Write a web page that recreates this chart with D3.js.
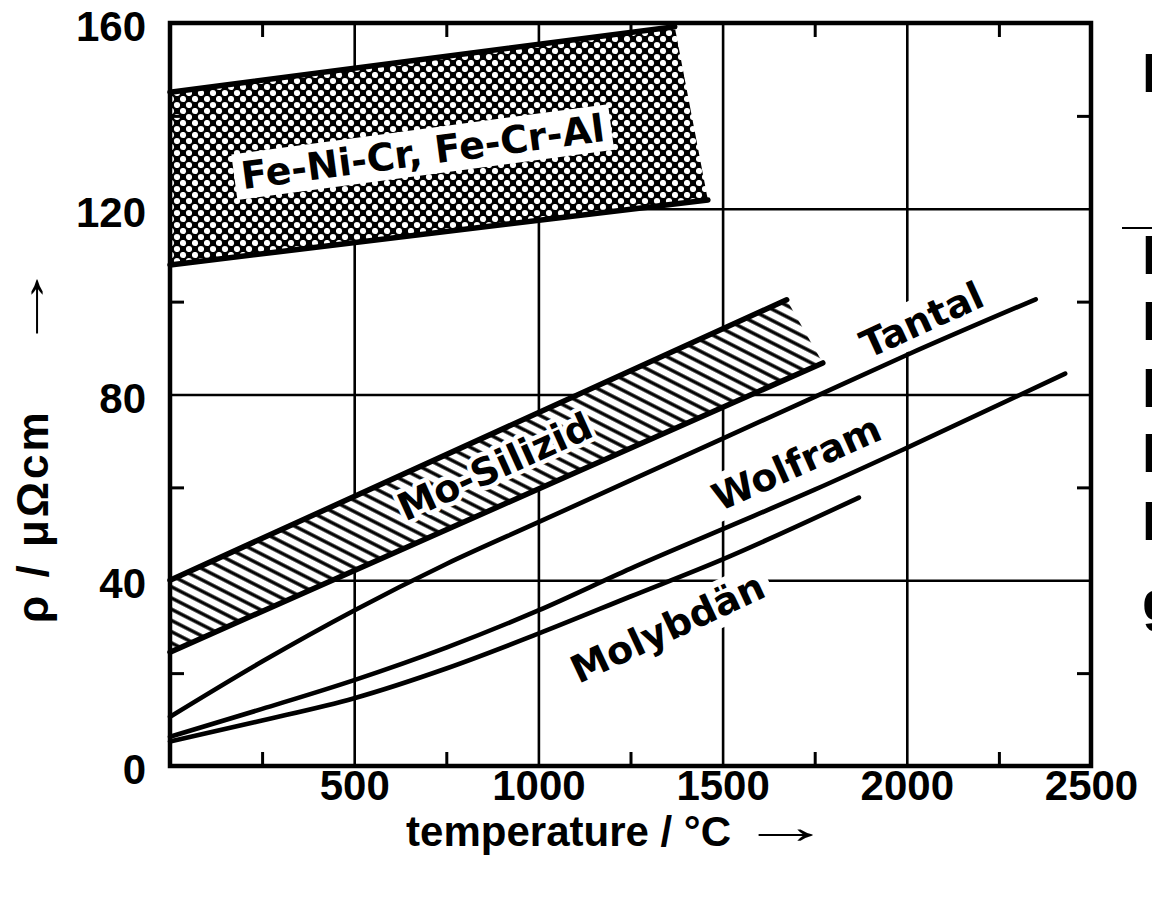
<!DOCTYPE html>
<html>
<head>
<meta charset="utf-8">
<script src="https://cdn.jsdelivr.net/npm/d3@7"></script>
<style>
  html, body { margin: 0; padding: 0; background: #fff; }
  svg { display: block; }
</style>
</head>
<body>
<svg id="chart" width="1152" height="911"></svg>
<script>
// ---- axis values ----
const tempTicks = [500, 1000, 1500, 2000, 2500];
const rhoTicks = [0, 40, 80, 120, 160];
const tempGrid = [500, 1000, 1500, 2000];
const rhoGrid = [40, 80, 120];
const tempMinor = [250, 750, 1250, 1750, 2250];
const rhoMinor = [20, 60, 100, 140];

// ---- resistivity bands [temperature °C, rho µΩcm] ----
const feNiCrUpper = [[0, 145.1], [1370, 159.2]];
const feNiCrLower = [[0, 107.9], [1460, 121.9]];
const moSiUpper = [[0, 40.0], [1674, 100.4]];
const moSiLower = [[0, 24.5], [1772, 86.8]];

// ---- single metals [temperature °C, rho µΩcm] ----
const tantal = [[0, 10.6], [250, 22.5], [500, 33.5], [750, 43.5], [1000, 52.5], [1250, 61.5],
                [1500, 70.5], [1750, 79.5], [2000, 88.5], [2350, 100.5]];
const wolfram = [[0, 6.3], [250, 12.3], [500, 18.5], [750, 25.5], [1000, 33.5], [1250, 42.5],
                 [1500, 51], [1750, 59.5], [2000, 68.5], [2430, 84.5]];
const molybdaen = [[0, 5.3], [250, 9.8], [500, 14.6], [750, 21], [1000, 28.5], [1250, 36.5],
                   [1500, 44.5], [1870, 57.8]];

// ---- curve labels: anchor in data units, rotation in degrees ----
const curveLabels = [
  { text: "Fe-Ni-Cr, Fe-Cr-Al", t: 686, r: 132.2, angle: -7.6, box: true },
  { text: "Mo-Silizid", t: 882, r: 64.4, angle: -24.4, halo: true },
  { text: "Tantal", t: 2041, r: 96.0, angle: -24.5, box: true },
  { text: "Wolfram", t: 1701, r: 65.2, angle: -24.0, box: true },
  { text: "Molybdän", t: 1351, r: 29.7, angle: -25.0, box: true }
];

// ---- text fragments of the neighbouring column ----
const edgeLetters = ["F", "E", "B", "D", "P", "R", "g"];
const edgeBaselines = [92, 274, 340, 407, 472, 540, 620];

const svg = d3.select("#chart");
const x = d3.scaleLinear().domain([0, 2500]).range([170, 1091]);
const y = d3.scaleLinear().domain([0, 160]).range([766, 23]);
const plotW = x(2500) - x(0), plotH = y(0) - y(160);

// patterns
const defs = svg.append("defs");
const dots = defs.append("pattern").attr("id", "dots")
  .attr("patternUnits", "userSpaceOnUse").attr("width", 12).attr("height", 12);
dots.append("rect").attr("width", 12).attr("height", 12).attr("fill", "#000");
dots.append("circle").attr("cx", 3).attr("cy", 3).attr("r", 3.1).attr("fill", "#fff");
dots.append("circle").attr("cx", 9).attr("cy", 9).attr("r", 3.1).attr("fill", "#fff");

const hatch = defs.append("pattern").attr("id", "hatch")
  .attr("patternUnits", "userSpaceOnUse").attr("width", 10).attr("height", 10)
  .attr("patternTransform", "rotate(27)");
hatch.append("rect").attr("width", 10).attr("height", 10).attr("fill", "#fff");
hatch.append("line").attr("x1", 0).attr("x2", 10).attr("y1", 5).attr("y2", 5)
  .attr("stroke", "#000").attr("stroke-width", 3.4);

// gridlines
const gx = svg.append("g").attr("transform", `translate(0,${y(0)})`)
  .call(d3.axisBottom(x).tickValues(tempGrid).tickSize(-plotH).tickFormat(""));
const gy = svg.append("g").attr("transform", `translate(${x(0)},0)`)
  .call(d3.axisLeft(y).tickValues(rhoGrid).tickSize(-plotW).tickFormat(""));
[gx, gy].forEach(g => {
  g.select(".domain").remove();
  g.selectAll("line").attr("stroke", "#000").attr("stroke-width", 2.6);
});

// bands
const line = d3.line().x(d => x(d[0])).y(d => y(d[1]));
function band(upper, lower, fill) {
  const poly = upper.concat(lower.slice().reverse());
  svg.append("path").attr("d", line(poly) + "Z").attr("fill", fill);
  [upper, lower].forEach(edge => {
    svg.append("path").attr("d", line(edge)).attr("fill", "none")
      .attr("stroke", "#000").attr("stroke-width", 5.5).attr("stroke-linecap", "round");
  });
}
band(feNiCrUpper, feNiCrLower, "url(#dots)");
band(moSiUpper, moSiLower, "url(#hatch)");

// labels
const labelFont = "'DejaVu Sans', sans-serif";
curveLabels.forEach(l => {
  const g = svg.append("g")
    .attr("transform", `translate(${x(l.t)},${y(l.r)}) rotate(${l.angle})`);
  const rect = g.append("rect").attr("fill", "#fff");
  const t = g.append("text").text(l.text)
    .attr("text-anchor", "middle").attr("dominant-baseline", "central")
    .attr("font-family", labelFont).attr("font-weight", "bold").attr("font-size", 38)
    .attr("fill", "#000");
  if (l.halo) {
    t.attr("stroke", "#fff").attr("stroke-width", 9).attr("paint-order", "stroke")
      .attr("stroke-linejoin", "round");
    rect.remove();
  } else {
    const b = t.node().getBBox();
    const padX = 7, padY = 1;
    rect.attr("x", b.x - padX).attr("y", b.y - padY)
      .attr("width", b.width + 2 * padX).attr("height", b.height + 2 * padY);
  }
});

// metal curves
const curve = d3.line().x(d => x(d[0])).y(d => y(d[1])).curve(d3.curveMonotoneX);
[tantal, wolfram, molybdaen].forEach(s => {
  svg.append("path").attr("d", curve(s)).attr("fill", "none")
    .attr("stroke", "#000").attr("stroke-width", 4.6).attr("stroke-linecap", "round");
});

// minor ticks on all four sides
const tick = 14;
const sides = [
  svg.append("g").attr("transform", `translate(0,${y(0)})`)
    .call(d3.axisBottom(x).tickValues(tempMinor).tickSize(-tick).tickFormat("")),
  svg.append("g").attr("transform", `translate(0,${y(160)})`)
    .call(d3.axisTop(x).tickValues(tempMinor).tickSize(-tick).tickFormat("")),
  svg.append("g").attr("transform", `translate(${x(0)},0)`)
    .call(d3.axisLeft(y).tickValues(rhoMinor).tickSize(-tick).tickFormat("")),
  svg.append("g").attr("transform", `translate(${x(2500)},0)`)
    .call(d3.axisRight(y).tickValues(rhoMinor).tickSize(-tick).tickFormat(""))
];
sides.forEach(g => {
  g.select(".domain").remove();
  g.selectAll("line").attr("stroke", "#000").attr("stroke-width", 3);
});

// frame
svg.append("rect").attr("x", x(0)).attr("y", y(160)).attr("width", plotW).attr("height", plotH)
  .attr("fill", "none").attr("stroke", "#000").attr("stroke-width", 4.5);

// tick labels
const numFont = "'Liberation Sans', Arial, sans-serif";
const ax = svg.append("g").attr("transform", `translate(0,${y(0)})`)
  .call(d3.axisBottom(x).tickValues(tempTicks).tickFormat(d3.format("d")).tickSize(0).tickPadding(4));
const ay = svg.append("g").attr("transform", `translate(${x(0)},0)`)
  .call(d3.axisLeft(y).tickValues(rhoTicks).tickFormat(d3.format("d")).tickSize(0).tickPadding(24));
[ax, ay].forEach(g => {
  g.select(".domain").remove();
  g.selectAll("text").attr("font-family", numFont).attr("font-weight", "bold")
    .attr("font-size", 42).attr("fill", "#000");
});
ay.selectAll("text").attr("dy", "0.42em");

// axis titles
const titleFont = "'Liberation Sans', Arial, sans-serif";
svg.append("text").attr("x", 731).attr("y", 846).attr("text-anchor", "end")
  .attr("font-family", titleFont).attr("font-weight", "bold").attr("font-size", 42)
  .text("temperature / °C");
svg.append("text").attr("transform", "translate(740,843) scale(1.9,1)")
  .attr("font-family", titleFont).attr("font-size", 48).text("→");

svg.append("text").attr("transform", "translate(48,623) rotate(-90)")
  .attr("font-family", titleFont).attr("font-weight", "bold").attr("font-size", 44)
  .attr("letter-spacing", 3).text("ρ / μΩcm");
svg.append("text").attr("transform", "translate(45,352) rotate(-90) scale(1.9,1)")
  .attr("font-family", titleFont).attr("font-size", 48).text("→");

// neighbouring column, cut at the page edge
svg.append("line").attr("x1", 1122).attr("x2", 1152).attr("y1", 228).attr("y2", 228)
  .attr("stroke", "#000").attr("stroke-width", 2);
svg.selectAll("text.edge").data(edgeLetters).join("text").attr("class", "edge")
  .attr("x", 1142).attr("y", (d, i) => edgeBaselines[i])
  .attr("font-family", titleFont).attr("font-weight", "bold").attr("font-size", 56)
  .text(d => d);
</script>
</body>
</html>
